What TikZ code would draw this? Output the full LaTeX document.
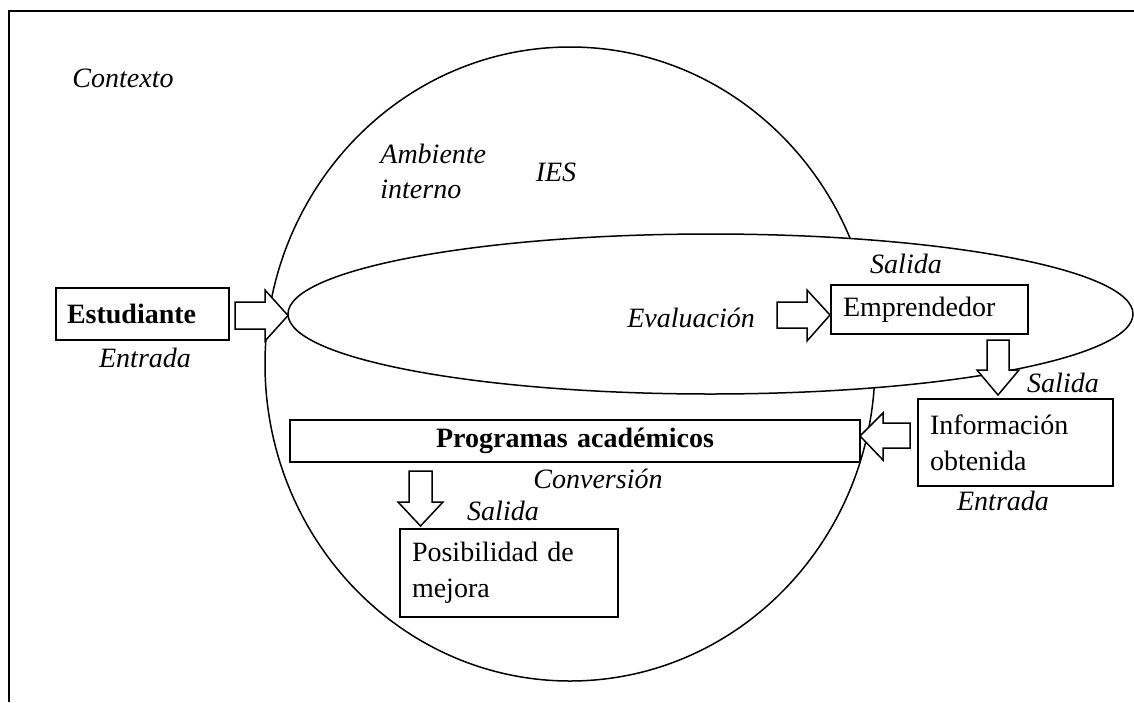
\documentclass[tikz,border=0pt]{standalone}
\usepackage{fontspec}
\setmainfont{Liberation Serif}
\begin{document}
\begin{tikzpicture}[x=0.5pt,y=-0.5pt,
  every node/.style={font=\fontsize{14}{18}\selectfont},
  lbl/.style={inner sep=0pt,anchor=base,font=\fontsize{14}{18}\selectfont\itshape},
  boxl/.style={draw,line width=0.75pt,fill=white,align=left,inner ysep=0pt,inner xsep=6pt},
  blk/.style={draw,line width=0.75pt,fill=white,line join=miter},
  shapeline/.style={draw,line width=0.75pt}]
\useasboundingbox (0,0) rectangle (1134,702);
% frame
\draw[line width=1pt] (1134,11) -- (9,11) -- (9,702);
% IES circle and evaluation ellipse
\path[shapeline,fill=white] (570,364) ellipse [x radius=305, y radius=317];
\path[shapeline,fill=white] (710.5,314) ellipse [x radius=422.5, y radius=80];
% labels
\node[lbl] (ctx) at (123,87) {Contexto};
\node[lbl,anchor=base west] (amb1) at (380,163) {Ambiente};
\node[lbl,anchor=base west] (amb2) at (380,198) {interno};
\node[lbl] (ies) at (556,181) {IES};
\node[lbl] (eval) at (691,327) {Evaluación};
\node[lbl] (sal1) at (906,273) {Salida};
\node[lbl] (sal2) at (1063,392) {Salida};
\node[lbl] (ent1) at (145,367) {Entrada};
\node[lbl] (ent2) at (1003,510) {Entrada};
\node[lbl] (conv) at (598,488) {Conversión};
\node[lbl] (sal3) at (503,520) {Salida};
% boxes
\node[boxl,font=\fontsize{14}{18}\selectfont\bfseries,inner xsep=5.5pt,text width=75.5pt,minimum height=26pt] (est) at (142.5,314) {Estudiante};
\node[boxl,text width=86.5pt,minimum height=24.5pt] (emp) at (929.5,309.5) {Emprendedor};
\node[boxl,text width=85.5pt,minimum height=43.5pt] (info) at (1015.5,442.5) {Información\\obtenida};
\node[boxl,text width=97pt,minimum height=44pt] (pos) at (509,573) {Posibilidad de\\mejora};
\node[boxl,align=center,font=\fontsize{14}{18}\selectfont\bfseries,text width=273pt,minimum height=21pt] (prog) at (575,441) {Programas académicos};
% block arrows
\path[blk] (235,302) -- (265,302) -- (265,290) -- (288,315.5) -- (265,341) -- (265,329) -- (235,329) -- cycle;
\path[blk] (777,302) -- (807,302) -- (807,290) -- (830,315) -- (807,341) -- (807,328) -- (777,328) -- cycle;
\path[blk] (987,340) -- (1009,340) -- (1009,370) -- (1019,370) -- (998,395) -- (977,370) -- (987,370) -- cycle;
\path[blk] (910,423) -- (883,423) -- (883,413) -- (860,436) -- (883,460) -- (883,448) -- (910,448) -- cycle;
\path[blk] (409,471) -- (432,471) -- (432,502) -- (443,502) -- (420.5,526) -- (398,502) -- (409,502) -- cycle;
\end{tikzpicture}
\end{document}
